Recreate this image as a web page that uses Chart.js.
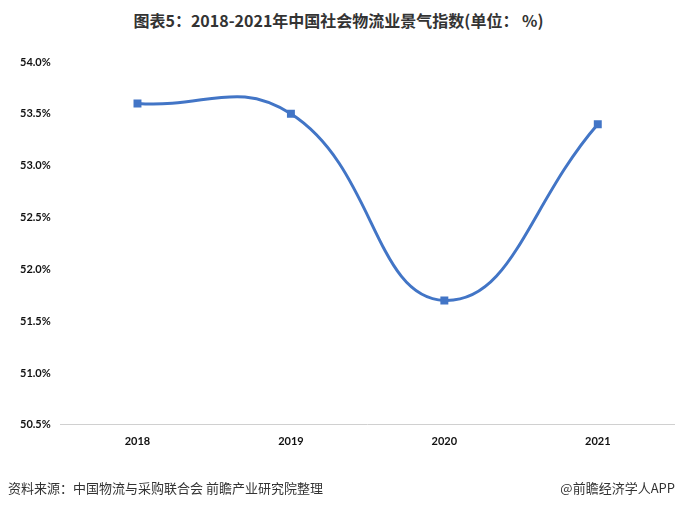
<!DOCTYPE html>
<html><head><meta charset="utf-8">
<script src="https://cdn.jsdelivr.net/npm/chart.js@4"></script>
<style>
html,body{margin:0;padding:0;background:#fff;width:677px;height:508px;overflow:hidden;position:relative;font-family:"Noto Sans CJK SC",sans-serif;}
#title{position:absolute;left:0;top:8px;width:677px;text-align:center;font-weight:bold;font-size:16px;color:#333;}
#wrap{position:absolute;left:0;top:0;width:681px;height:508px;}
#src{position:absolute;left:8px;top:478px;font-size:13px;color:#333;}
#app{position:absolute;right:2px;top:478px;font-size:13px;color:#333;}
</style></head><body>
<div id="title">图表5：2018-2021年中国社会物流业景气指数(单位： %)</div>
<div id="wrap"><canvas id="c" width="681" height="508"></canvas></div>
<div id="src">资料来源：中国物流与采购联合会 前瞻产业研究院整理</div>
<div id="app">@前瞻经济学人APP</div>
<script>
const years = ['2018','2019','2020','2021'];
const index = [53.6, 53.5, 51.7, 53.4];
const yMin = 50.5, yMax = 54.0, yStep = 0.5;

new Chart(document.getElementById('c'), {
  type: 'line',
  data: {labels: years, datasets: [{
    data: index,
    borderColor: '#4275c6',
    backgroundColor: '#4275c6',
    borderWidth: 3,
    tension: 0.45,
    pointStyle: 'rect',
    pointRadius: 3.5,
    pointHoverRadius: 3.5
  }]},
  options: {
    responsive: false,
    animation: false,
    layout: {padding: {top: 62, bottom: 50, left: 20, right: 0}},
    plugins: {legend: {display: false}, tooltip: {enabled: false}},
    scales: {
      x: {
        offset: true,
        grid: {display: false, drawTicks: false},
        border: {display: true, color: '#d0d0d0', width: 1},
        ticks: {padding: 10, color: '#111', font: {family: 'Lato', weight: 'bold', size: 11}}
      },
      y: {
        min: yMin, max: yMax,
        grid: {display: false, drawTicks: false},
        border: {display: false},
        ticks: {stepSize: yStep, crossAlign: 'far', padding: 5, color: '#111',
          font: {family: 'Lato', weight: 'bold', size: 11},
          callback: v => v.toFixed(1) + '%'}
      }
    }
  }
});
</script>
</body></html>
